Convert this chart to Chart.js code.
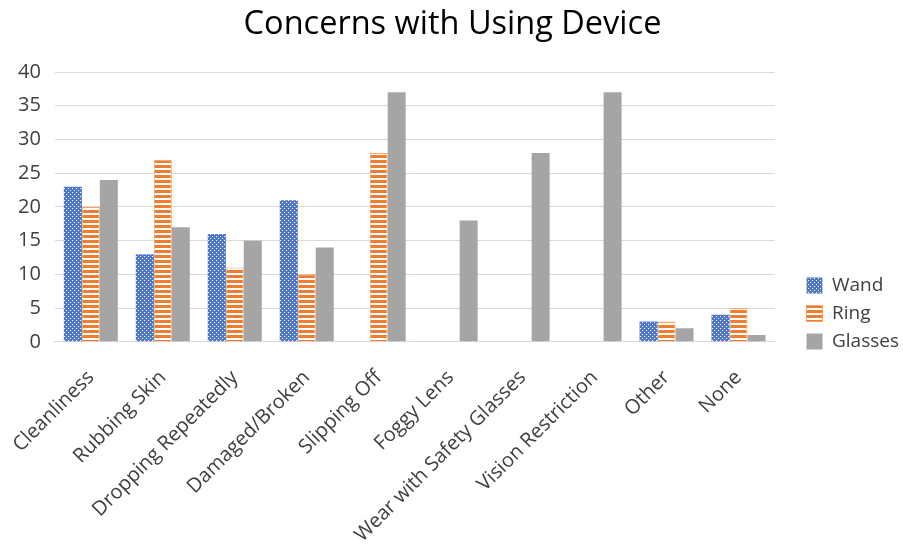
<!DOCTYPE html>
<html>
<head>
<meta charset="utf-8">
<script src="https://cdn.jsdelivr.net/npm/chart.js@4/dist/chart.umd.min.js"></script>
<style>
  html, body { margin: 0; padding: 0; background: #fff; }
  #wrap { width: 903px; height: 550px; }
</style>
</head>
<body>
<div id="wrap"><canvas id="chart" width="903" height="550"></canvas></div>
<script>
const categories = [
  "Cleanliness", "Rubbing Skin", "Dropping Repeatedly", "Damaged/Broken",
  "Slipping Off", "Foggy Lens", "Wear with Safety Glasses",
  "Vision Restriction", "Other", "None"
];
const wand = [23, 13, 16, 21, 0, 0, 0, 0, 3, 4];
const ring = [20, 27, 11, 10, 28, 0, 0, 0, 3, 5];
const glasses = [24, 17, 15, 14, 37, 18, 28, 37, 2, 1];
const yTicks = [0, 5, 10, 15, 20, 25, 30, 35, 40];

// small tiles used as fills for the bars
const dotPattern = () => {
  const c = document.createElement("canvas");
  c.width = 4; c.height = 4;
  const g = c.getContext("2d");
  g.fillStyle = "#4a78cc";
  g.fillRect(0, 0, 4, 4);
  g.fillStyle = "#ffffff";
  g.fillRect(0, 0, 1, 1);
  g.fillRect(2, 2, 1, 1);
  return g.createPattern(c, "repeat");
};

const stripePattern = () => {
  const c = document.createElement("canvas");
  c.width = 4; c.height = 5;
  const g = c.getContext("2d");
  g.fillStyle = "#ed7d31";
  g.fillRect(0, 0, 4, 5);
  g.fillStyle = "#ffffff";
  g.fillRect(0, 3, 4, 2);
  return g.createPattern(c, "repeat");
};

// widen the gap between plot and legend, nudge the legend down,
// and draw the category labels a little lower than the axis fit puts them
const legendGap = 23;
const legendDrop = 42;
const labelDrop = 14;
const layoutTweaks = {
  id: "layoutTweaks",
  beforeInit(chart) {
    const legend = chart.legend;
    const fit = legend.fit;
    legend.fit = function () {
      fit.call(this);
      this.width += 15;
    };
  },
  afterLayout(chart) {
    chart.legend.left += legendGap;
    chart.legend.top += legendDrop;
    chart.legend.bottom += legendDrop;

    const xs = chart.scales.x;
    if (!xs._dropped) {
      const drawLabels = xs.drawLabels;
      xs.drawLabels = function (area) {
        this.ctx.save();
        this.ctx.translate(0, labelDrop);
        drawLabels.call(this, area);
        this.ctx.restore();
      };
      xs._dropped = true;
    }
  },
};

const font = "'Open Sans', 'Liberation Sans', sans-serif";

new Chart(document.getElementById("chart"), {
  type: "bar",
  data: {
    labels: categories,
    datasets: [
      { label: "Wand", data: wand, backgroundColor: dotPattern(), borderWidth: 0 },
      { label: "Ring", data: ring, backgroundColor: stripePattern(), borderColor: "#f4a36e", borderWidth: 1 },
      { label: "Glasses", data: glasses, backgroundColor: "#a5a5a5", borderWidth: 0 },
    ],
  },
  plugins: [layoutTweaks],
  options: {
    responsive: false,
    animation: false,
    layout: { padding: { left: 4, right: 2, top: 0, bottom: 7 } },
    datasets: { bar: { categoryPercentage: 0.75, barPercentage: 1 } },
    plugins: {
      title: {
        display: true,
        text: "Concerns with Using Device",
        color: "#000",
        font: { family: font, size: 32.5, weight: "normal" },
        padding: { top: 5, bottom: 28 },
      },
      legend: {
        position: "right",
        labels: {
          color: "#404040",
          font: { family: font, size: 19 },
          boxWidth: 16,
          boxHeight: 16,
          padding: 9,
        },
      },
      tooltip: { enabled: false },
    },
    scales: {
      x: {
        grid: { display: false, drawTicks: false },
        border: { color: "#d9d9d9", width: 1 },
        ticks: {
          color: "#404040",
          font: { family: font, size: 20 },
          minRotation: 45,
          maxRotation: 45,
          padding: 10,
        },
      },
      y: {
        min: 0,
        max: 40,
        afterBuildTicks: (axis) => {
          axis.ticks = yTicks.map((v) => ({ value: v }));
        },
        grid: { color: "#d9d9d9", lineWidth: 1, drawTicks: false },
        border: { display: false },
        ticks: {
          color: "#404040",
          font: { family: font, size: 20 },
          padding: 14,
        },
      },
    },
  },
});
</script>
</body>
</html>
